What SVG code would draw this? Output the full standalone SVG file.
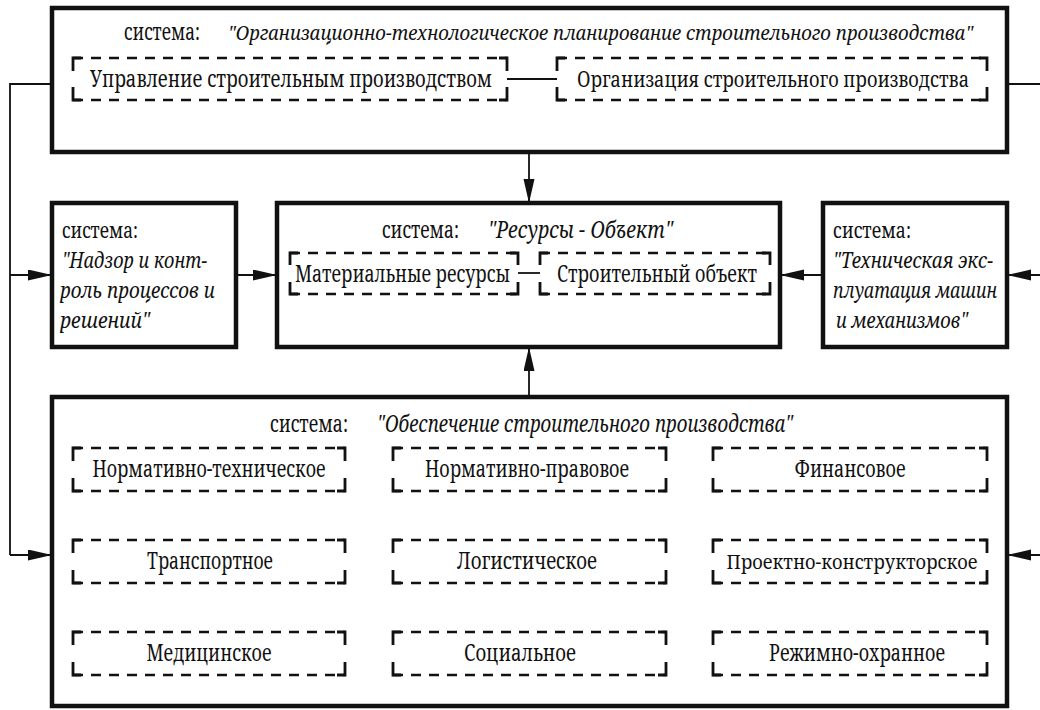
<svg xmlns="http://www.w3.org/2000/svg" width="1040" height="710" viewBox="0 0 1040 710">
<style>
.box{fill:#fff;stroke:#111;stroke-width:4.5}
.dl{fill:none;stroke:#111;stroke-width:2.6;stroke-dasharray:10 8}
.br{fill:none;stroke:#111;stroke-width:2.8}
.ln{fill:none;stroke:#111;stroke-width:1.8}
.arr{fill:none;stroke:#111;stroke-width:1.8;marker-end:url(#ah)}
text{font-family:"Noto Serif","DejaVu Serif","Liberation Serif","Times New Roman",serif;font-size:23px;fill:#111}
.it{font-style:italic}
.m{text-anchor:middle}
.s{font-size:22px}
.n{font-size:21px}
.nn{font-size:20px}
.t{font-size:19px}
</style>
<defs>
<marker id="ah" markerUnits="userSpaceOnUse" markerWidth="26" markerHeight="12" refX="24" refY="5.5" orient="auto">
<path d="M0,0 L24,5.5 L0,11 z" fill="#111"/>
</marker>
</defs>
<rect width="1040" height="710" fill="#fff"/>

<g id="top-system">
<rect class="box" x="52" y="8" width="955" height="144"/>
<text x="124" y="40" textLength="76" lengthAdjust="spacingAndGlyphs">система:</text>
<text class="it t" x="228" y="40" textLength="745" lengthAdjust="spacingAndGlyphs">"Организационно-технологическое планирование строительного производства"</text>
</g>
<g id="upravlenie">
<path class="dl" d="M73 58 H507 M73 100 H507"/>
<path class="br" d="M81 58 H73 V71 M73 87 V100 H81 M499 58 H507 V71 M507 87 V100 H499"/>
<text x="90" y="87" textLength="402" lengthAdjust="spacingAndGlyphs">Управление строительным производством</text>
</g>
<g id="organizaciya">
<path class="dl" d="M557 58 H987 M557 100 H987"/>
<path class="br" d="M565 58 H557 V71 M557 87 V100 H565 M979 58 H987 V71 M987 87 V100 H979"/>
<text class="n" x="577" y="87" textLength="392" lengthAdjust="spacingAndGlyphs">Организация строительного производства</text>
</g>

<g id="nadzor">
<rect class="box" x="52" y="203" width="184" height="144"/>
<text class="s" x="62" y="238" textLength="76" lengthAdjust="spacingAndGlyphs">система:</text>
<text class="it s" x="62" y="268" textLength="145" lengthAdjust="spacingAndGlyphs">"Надзор и конт-</text>
<text class="it s" x="60" y="298" textLength="155" lengthAdjust="spacingAndGlyphs">роль процессов и</text>
<text class="it s" x="60" y="328" textLength="90" lengthAdjust="spacingAndGlyphs">решений"</text>
</g>

<g id="resursy-obekt">
<rect class="box" x="277" y="203" width="503" height="144"/>
<text x="382" y="238" textLength="77" lengthAdjust="spacingAndGlyphs">система:</text>
<text class="it" x="488" y="238" textLength="185" lengthAdjust="spacingAndGlyphs">"Ресурсы - Объект"</text>
</g>
<g id="materialnye">
<path class="dl" d="M290 253 H518 M290 294 H518"/>
<path class="br" d="M298 253 H290 V265 M290 282 V294 H298 M510 253 H518 V265 M518 282 V294 H510"/>
<text x="295" y="282" textLength="215" lengthAdjust="spacingAndGlyphs">Материальные ресурсы</text>
</g>
<g id="stroitelny-obekt">
<path class="dl" d="M540 253 H770 M540 294 H770"/>
<path class="br" d="M548 253 H540 V265 M540 282 V294 H548 M762 253 H770 V265 M770 282 V294 H762"/>
<text x="557" y="282" textLength="200" lengthAdjust="spacingAndGlyphs">Строительный объект</text>
</g>

<g id="tech-ekspl">
<rect class="box" x="823" y="203" width="184" height="144"/>
<text class="s" x="833" y="238" textLength="78" lengthAdjust="spacingAndGlyphs">система:</text>
<text class="it s" x="833" y="268" textLength="160" lengthAdjust="spacingAndGlyphs">"Техническая экс-</text>
<text class="it s" x="833" y="298" textLength="164" lengthAdjust="spacingAndGlyphs">плуатация машин</text>
<text class="it s" x="836" y="328" textLength="132" lengthAdjust="spacingAndGlyphs">и механизмов"</text>
</g>

<g id="obespechenie">
<rect class="box" x="52" y="397" width="955" height="309"/>
<text x="270" y="432" textLength="78" lengthAdjust="spacingAndGlyphs">система:</text>
<text class="it" x="377" y="432" textLength="416" lengthAdjust="spacingAndGlyphs">"Обеспечение строительного производства"</text>
</g>

<g id="norm-tech">
<path class="dl" d="M73 448 H345 M73 491 H345"/>
<path class="br" d="M81 448 H73 V461 M73 478 V491 H81 M337 448 H345 V461 M345 478 V491 H337"/>
<text class="m" x="209" y="477" textLength="233" lengthAdjust="spacingAndGlyphs">Нормативно-техническое</text>
</g>
<g id="norm-prav">
<path class="dl" d="M393 448 H666 M393 491 H666"/>
<path class="br" d="M401 448 H393 V461 M393 478 V491 H401 M658 448 H666 V461 M666 478 V491 H658"/>
<text class="m" x="527" y="477" textLength="204" lengthAdjust="spacingAndGlyphs">Нормативно-правовое</text>
</g>
<g id="finans">
<path class="dl" d="M713 448 H987 M713 491 H987"/>
<path class="br" d="M721 448 H713 V461 M713 478 V491 H721 M979 448 H987 V461 M987 478 V491 H979"/>
<text class="m" x="850" y="477" textLength="111" lengthAdjust="spacingAndGlyphs">Финансовое</text>
</g>

<g id="transport">
<path class="dl" d="M73 540 H345 M73 583 H345"/>
<path class="br" d="M81 540 H73 V553 M73 570 V583 H81 M337 540 H345 V553 M345 570 V583 H337"/>
<text class="m" x="210" y="569" textLength="126" lengthAdjust="spacingAndGlyphs">Транспортное</text>
</g>
<g id="logist">
<path class="dl" d="M393 540 H666 M393 583 H666"/>
<path class="br" d="M401 540 H393 V553 M393 570 V583 H401 M658 540 H666 V553 M666 570 V583 H658"/>
<text class="m" x="527" y="569" textLength="140" lengthAdjust="spacingAndGlyphs">Логистическое</text>
</g>
<g id="proekt">
<path class="dl" d="M713 540 H987 M713 583 H987"/>
<path class="br" d="M721 540 H713 V553 M713 570 V583 H721 M979 540 H987 V553 M987 570 V583 H979"/>
<text class="m nn" x="852" y="569" textLength="251" lengthAdjust="spacingAndGlyphs">Проектно-конструкторское</text>
</g>

<g id="medic">
<path class="dl" d="M73 632 H345 M73 675 H345"/>
<path class="br" d="M81 632 H73 V645 M73 662 V675 H81 M337 632 H345 V645 M345 662 V675 H337"/>
<text class="m" x="209" y="661" textLength="125" lengthAdjust="spacingAndGlyphs">Медицинское</text>
</g>
<g id="social">
<path class="dl" d="M393 632 H666 M393 675 H666"/>
<path class="br" d="M401 632 H393 V645 M393 662 V675 H401 M658 632 H666 V645 M666 662 V675 H658"/>
<text class="m" x="520" y="661" textLength="112" lengthAdjust="spacingAndGlyphs">Социальное</text>
</g>
<g id="rezhim">
<path class="dl" d="M713 632 H987 M713 675 H987"/>
<path class="br" d="M721 632 H713 V645 M713 662 V675 H721 M979 632 H987 V645 M987 662 V675 H979"/>
<text class="m" x="857" y="661" textLength="176" lengthAdjust="spacingAndGlyphs">Режимно-охранное</text>
</g>

<g id="connectors">
<path class="ln" d="M52 84 H10 V555"/>
<path class="arr" d="M10 555 H52"/>
<path class="arr" d="M10 275 H52"/>
<path class="ln" d="M1007 84 H1040"/>
<path class="arr" d="M1040 275 H1007"/>
<path class="arr" d="M1040 555 H1007"/>
<path class="arr" d="M236 275 H277"/>
<path class="arr" d="M823 275 H780"/>
<path class="arr" d="M529 152 V203"/>
<path class="arr" d="M529 397 V347"/>
<path class="ln" d="M507 79 H557"/>
<path class="ln" d="M518 273 H540"/>
</g>
</svg>
